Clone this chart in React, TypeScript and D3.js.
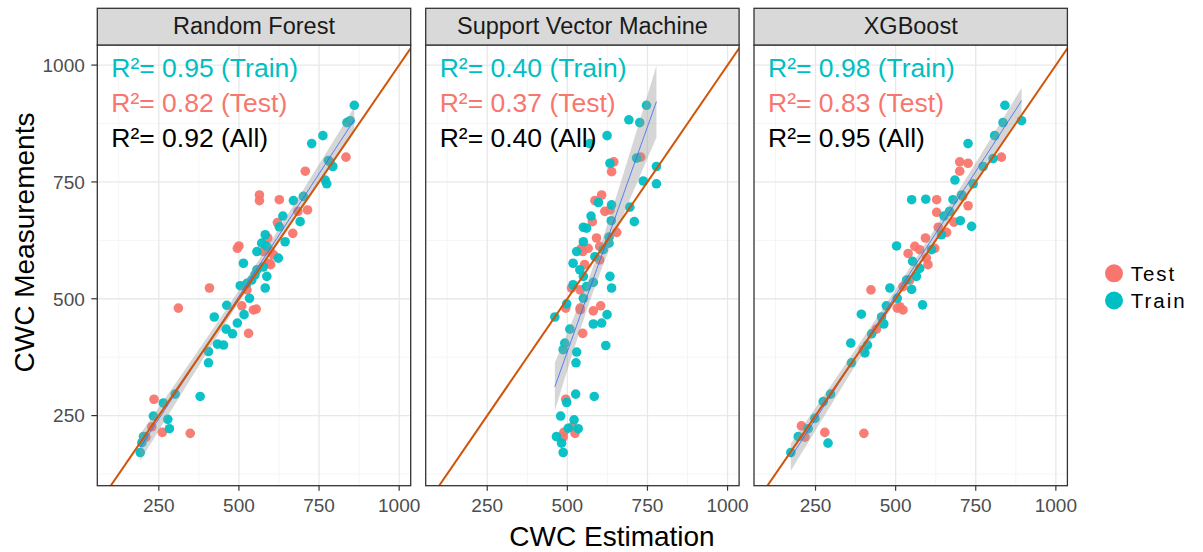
import React from "react";
import * as d3 from "d3";

const panels = ["Random Forest", "Support Vector Machine", "XGBoost"];
const r2Train = ["0.95", "0.40", "0.98"];
const r2Test = ["0.82", "0.37", "0.83"];
const r2All = ["0.92", "0.40", "0.95"];
const xTicks = [250, 500, 750, 1000];
const yTicks = [250, 500, 750, 1000];
const minorTicks = [125, 375, 625, 875];

// Random Forest
const rfTrainX = [860, 837, 847, 762, 727, 779, 793, 769, 774, 670, 701, 637, 691, 626, 582, 644, 571, 587, 556, 623, 514, 576, 556, 550, 587, 540, 525, 504, 582, 533, 462, 516, 423, 495, 460, 480, 433, 452, 405, 405, 301, 379, 264, 233, 278, 283, 202, 197, 192];
const rfTrainY = [914, 877, 881, 849, 832, 796, 783, 754, 746, 710, 719, 677, 665, 654, 637, 622, 619, 612, 601, 587, 576, 568, 562, 551, 548, 540, 533, 528, 523, 501, 486, 466, 461, 448, 435, 425, 403, 401, 387, 363, 296, 291, 277, 249, 242, 222, 205, 192, 171];
const rfTestX = [834, 784, 707, 564, 564, 626, 684, 714, 620, 668, 590, 500, 495, 576, 597, 608, 595, 599, 408, 525, 509, 311, 545, 554, 530, 235, 228, 261, 348, 210];
const rfTestY = [803, 793, 773, 722, 710, 712, 687, 690, 663, 640, 630, 613, 608, 601, 603, 594, 576, 573, 523, 519, 485, 480, 476, 478, 426, 285, 226, 214, 212, 204];

// Support Vector Machine
const svmTrainX = [747, 692, 726, 624, 570, 633, 716, 778, 737, 778, 597, 638, 695, 574, 709, 637, 550, 560, 630, 550, 630, 529, 612, 586, 518, 539, 550, 633, 581, 518, 560, 638, 550, 498, 624, 461, 581, 607, 508, 492, 487, 529, 620, 527, 526, 584, 498, 479, 521, 534, 503, 466, 482, 487];
const svmTrainY = [914, 883, 877, 849, 832, 790, 801, 783, 752, 746, 706, 701, 696, 677, 665, 667, 653, 651, 632, 622, 619, 601, 605, 590, 576, 562, 548, 548, 535, 530, 526, 523, 501, 489, 466, 461, 446, 448, 435, 405, 391, 386, 400, 363, 296, 291, 278, 249, 241, 222, 223, 205, 191, 171];
const svmTestX = [645, 638, 729, 607, 586, 617, 633, 578, 654, 591, 601, 544, 565, 548, 601, 554, 513, 540, 495, 540, 540, 581, 604, 548, 495, 515, 524, 489, 487];
const svmTestY = [793, 772, 803, 722, 710, 687, 690, 665, 642, 630, 612, 608, 608, 601, 583, 573, 523, 519, 480, 480, 476, 474, 485, 426, 285, 226, 212, 214, 204];

// XGBoost
const xgbTrainX = [841, 835, 893, 809, 726, 804, 773, 685, 742, 706, 550, 594, 679, 651, 668, 702, 737, 643, 503, 612, 553, 575, 565, 534, 550, 482, 505, 471, 584, 393, 456, 463, 425, 360, 412, 404, 362, 297, 274, 248, 227, 196, 289, 173];
const xgbTrainY = [914, 877, 881, 849, 832, 800, 783, 754, 746, 722, 712, 713, 712, 677, 687, 667, 655, 637, 613, 605, 580, 565, 548, 540, 520, 523, 501, 485, 487, 467, 461, 446, 425, 405, 401, 384, 363, 296, 280, 244, 222, 205, 191, 171];
const xgbTestX = [830, 700, 726, 700, 628, 709, 726, 628, 682, 633, 659, 593, 622, 560, 575, 539, 596, 601, 544, 523, 423, 513, 523, 505, 440, 399, 206, 279, 401, 217];
const xgbTestY = [803, 793, 790, 773, 712, 719, 699, 685, 664, 653, 642, 630, 608, 612, 605, 597, 587, 573, 540, 526, 519, 483, 476, 480, 435, 391, 228, 214, 212, 204];

const trainXs = [rfTrainX, svmTrainX, xgbTrainX];
const trainYs = [rfTrainY, svmTrainY, xgbTrainY];
const testXs = [rfTestX, svmTestX, xgbTestX];
const testYs = [rfTestY, svmTestY, xgbTestY];

const TRAIN = "#00BFC4";
const TEST = "#F8766D";
const FONT = "'Liberation Sans', Arial, Helvetica, sans-serif";

const panelLefts = [97.3, 425.7, 754];
const PW = 313.4;
const TOP = 45;
const BOTTOM = 485.7;
const STRIP_TOP = 8.3;

function lmFit(xs: number[], ys: number[]) {
  const n = xs.length;
  const mx = d3.mean(xs)!;
  const my = d3.mean(ys)!;
  let sxx = 0, sxy = 0;
  for (let i = 0; i < n; i++) {
    sxx += (xs[i] - mx) ** 2;
    sxy += (xs[i] - mx) * (ys[i] - my);
  }
  const b = sxy / sxx;
  const a = my - b * mx;
  let sse = 0;
  for (let i = 0; i < n; i++) sse += (ys[i] - a - b * xs[i]) ** 2;
  const s = Math.sqrt(sse / (n - 2));
  const t = 1.98;
  const [x0, x1] = d3.extent(xs) as [number, number];
  return d3.range(0, 81).map((k) => {
    const x = x0 + ((x1 - x0) * k) / 80;
    const yhat = a + b * x;
    const se = s * Math.sqrt(1 / n + (x - mx) ** 2 / sxx);
    return { x, y: yhat, lo: yhat - t * se, hi: yhat + t * se };
  });
}

function Panel({ i }: { i: number }) {
  const left = panelLefts[i];
  const x = d3.scaleLinear().domain([58, 1036]).range([left, left + PW]);
  const y = d3.scaleLinear().domain([100, 1043]).range([BOTTOM, TOP]);
  const allX = [...trainXs[i], ...testXs[i]];
  const allY = [...trainYs[i], ...testYs[i]];
  const fit = lmFit(allX, allY);
  const area = d3
    .area<any>()
    .x((d) => x(d.x))
    .y0((d) => y(d.lo))
    .y1((d) => y(d.hi));
  const line = d3
    .line<any>()
    .x((d) => x(d.x))
    .y((d) => y(d.y));
  const clipId = `clip${i}`;
  const pts: { x: number; y: number; c: string }[] = [];
  testXs[i].forEach((v, k) => pts.push({ x: v, y: testYs[i][k], c: TEST }));
  trainXs[i].forEach((v, k) => pts.push({ x: v, y: trainYs[i][k], c: TRAIN }));
  const abl = [58, 1043];
  return (
    <g>
      <defs>
        <clipPath id={clipId}>
          <rect x={left} y={TOP} width={PW} height={BOTTOM - TOP} />
        </clipPath>
      </defs>
      <rect x={left} y={TOP} width={PW} height={BOTTOM - TOP} fill="#fff" />
      {minorTicks.map((t) => (
        <g key={"m" + t}>
          <line x1={x(t)} x2={x(t)} y1={TOP} y2={BOTTOM} stroke="#f2f2f2" strokeWidth={0.8} />
          <line x1={left} x2={left + PW} y1={y(t)} y2={y(t)} stroke="#f2f2f2" strokeWidth={0.8} />
        </g>
      ))}
      {xTicks.map((t) => (
        <line key={"gx" + t} x1={x(t)} x2={x(t)} y1={TOP} y2={BOTTOM} stroke="#e8e8e8" strokeWidth={1.3} />
      ))}
      {yTicks.map((t) => (
        <line key={"gy" + t} x1={left} x2={left + PW} y1={y(t)} y2={y(t)} stroke="#e8e8e8" strokeWidth={1.3} />
      ))}
      <g clipPath={`url(#${clipId})`}>
        {pts.map((p, k) => (
          <circle key={k} cx={x(p.x)} cy={y(p.y)} r={4.8} fill={p.c} fillOpacity={0.95} />
        ))}
        <path d={area(fit)!} fill="#999999" fillOpacity={0.4} />
        <path d={line(fit)!} fill="none" stroke="#3366FF" strokeWidth={0.8} />
        <line x1={x(abl[0])} y1={y(abl[0])} x2={x(abl[1])} y2={y(abl[1])} stroke="#D0550A" strokeWidth={2} />
      </g>
      <rect x={left} y={TOP} width={PW} height={BOTTOM - TOP} fill="none" stroke="#333" strokeWidth={1.3} />
      <rect x={left} y={STRIP_TOP} width={PW} height={TOP - STRIP_TOP} fill="#d9d9d9" stroke="#333" strokeWidth={1.3} />
      <text x={left + PW / 2} y={33.5} textAnchor="middle" fontSize={23.5} fill="#1a1a1a" fontFamily={FONT}>
        {panels[i]}
      </text>
      <g fontFamily={FONT} fontSize={26.5}>
        <text x={left + 14} y={76.5} fill={TRAIN}>{`R²= ${r2Train[i]} (Train)`}</text>
        <text x={left + 14} y={111.5} fill={TEST}>{`R²= ${r2Test[i]} (Test)`}</text>
        <text x={left + 14} y={146.5} fill="#000">{`R²= ${r2All[i]} (All)`}</text>
      </g>
      {xTicks.map((t) => (
        <g key={"tx" + t}>
          <line x1={x(t)} x2={x(t)} y1={BOTTOM} y2={BOTTOM + 5} stroke="#333" strokeWidth={1.2} />
          <text x={x(t)} y={511.5} textAnchor="middle" fontSize={19} fill="#4d4d4d" fontFamily={FONT}>
            {t}
          </text>
        </g>
      ))}
      {i === 0 &&
        yTicks.map((t) => (
          <g key={"ty" + t}>
            <line x1={left - 6} x2={left} y1={y(t)} y2={y(t)} stroke="#333" strokeWidth={1.2} />
            <text x={left - 12.5} y={y(t) + 6.8} textAnchor="end" fontSize={19} fill="#4d4d4d" fontFamily={FONT}>
              {t}
            </text>
          </g>
        ))}
    </g>
  );
}

export default function App() {
  return (
    <svg
      width={1203}
      height={552}
      style={{ position: "absolute", left: 0, top: 0, background: "#fff" }}
    >
      <rect width={1203} height={552} fill="#fff" />
      {panels.map((_, i) => (
        <Panel key={i} i={i} />
      ))}
      <text x={612} y={546} textAnchor="middle" fontSize={28} fill="#000" fontFamily={FONT}>
        CWC Estimation
      </text>
      <text
        transform={`translate(33.5, 242.5) rotate(-90)`}
        textAnchor="middle"
        fontSize={28}
        fill="#000"
        fontFamily={FONT}
      >
        CWC Measurements
      </text>
      <g fontFamily={FONT} fontSize={20.5} fill="#000">
        <circle cx={1114} cy={273.3} r={9} fill={TEST} />
        <text x={1130.7} y={280.6} letterSpacing={2}>Test</text>
        <circle cx={1114} cy={300.5} r={9} fill={TRAIN} />
        <text x={1130.7} y={307.8} letterSpacing={2}>Train</text>
      </g>
    </svg>
  );
}
